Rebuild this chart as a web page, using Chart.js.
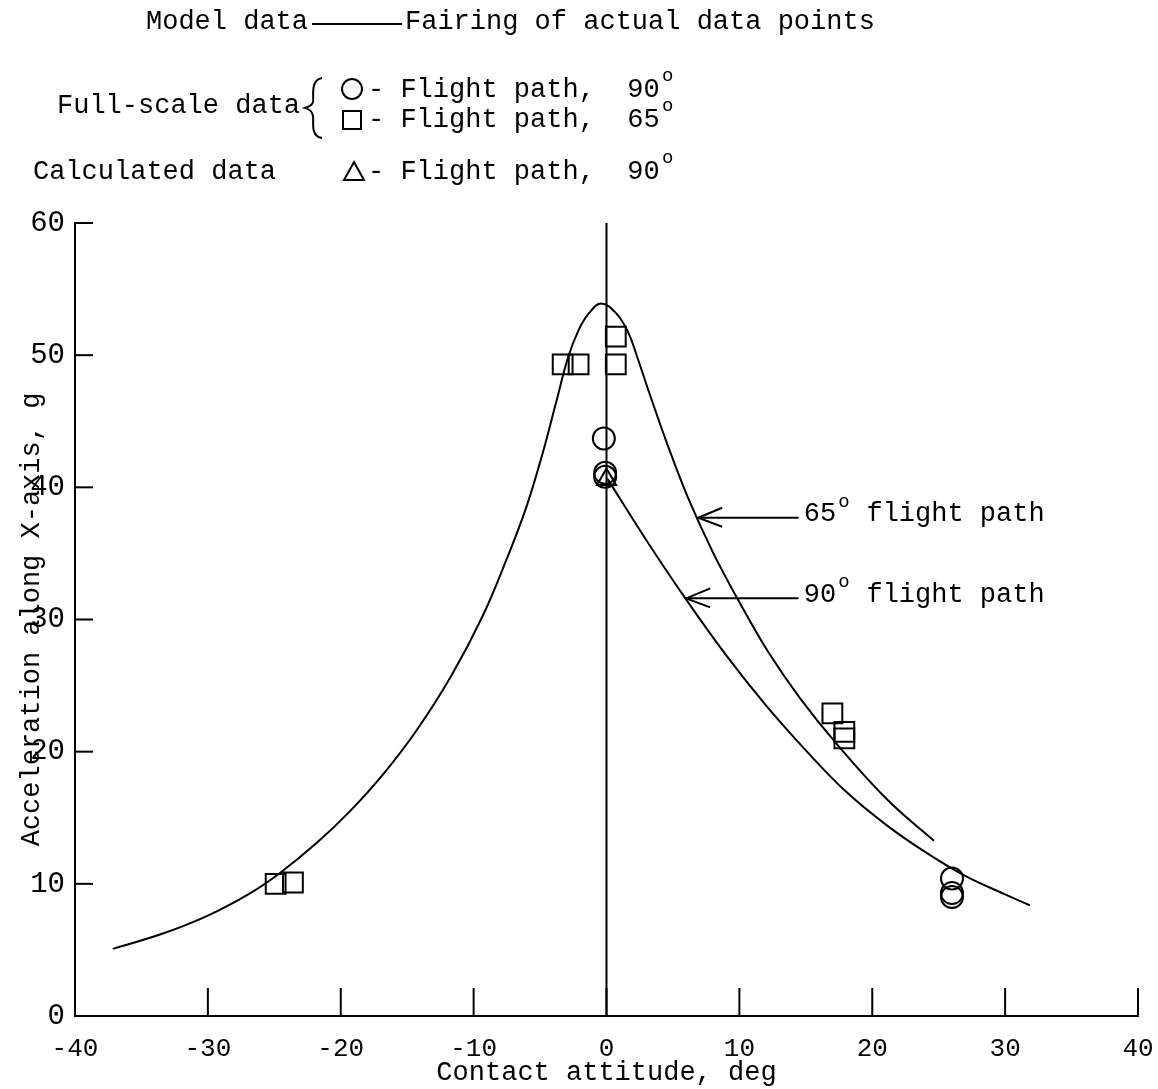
<!DOCTYPE html>
<html>
<head>
<meta charset="utf-8">
<script src="https://cdn.jsdelivr.net/npm/chart.js@4.4.1/dist/chart.umd.min.js"></script>
<style>
html,body{margin:0;padding:0;background:#fff;}
#wrap{width:1158px;height:1089px;position:relative;}
</style>
</head>
<body>
<div id="wrap"><canvas id="c" width="1158" height="1089"></canvas></div>
<script>
// ---- data ----
const xTicks = [-40, -30, -20, -10, 0, 10, 20, 30, 40];
const yTicks = [0, 10, 20, 30, 40, 50, 60];

// Model data fairing, 65 deg flight path
const fair65X = [-37.1, -33.5, -30, -26.8, -24.6, -21.8, -19.3, -16.8, -14.3, -11.7, -9.3, -7.5, -6.0, -4.8, -3.8, -2.9, -2.1, -1.3, -0.4, 0.7, 1.6, 2.3, 3.1, 4.6, 6.1, 8.0, 9.9, 12.2, 14.6, 17.4, 21.2, 24.6];
const fair65Y = [5.1, 6.2, 7.6, 9.3, 10.8, 13.1, 15.5, 18.3, 21.6, 25.7, 30.3, 34.6, 38.6, 42.6, 46.4, 49.8, 51.9, 53.2, 53.9, 53.2, 51.8, 49.9, 47.5, 43.2, 39.3, 35.1, 31.5, 27.5, 24.0, 20.5, 16.3, 13.3];

// Model data fairing, 90 deg flight path
const fair90X = [0.1, 3, 6, 9, 12, 15, 18, 21, 24, 27, 30, 31.8];
const fair90Y = [40.6, 36.0, 31.5, 27.3, 23.5, 20.1, 17.0, 14.5, 12.4, 10.6, 9.2, 8.4];

// Full-scale data, flight path 90 deg (circles)
const circX = [-0.2, -0.1, -0.1, 26.0, 26.0, 26.0];
const circY = [43.7, 41.1, 40.8, 10.4, 9.3, 9.0];

// Full-scale data, flight path 65 deg (squares)
const sqX = [-3.3, -2.1, 0.7, 0.7, -24.9, -23.6, 17.0, 17.9, 17.9];
const sqY = [49.3, 49.3, 51.4, 49.3, 10.0, 10.1, 22.9, 21.5, 21.0];

// Calculated data, flight path 90 deg (triangle)
const triX = [0.0];
const triY = [40.6];

// vertical reference line at 0 deg
const zeroX = [0, 0];
const zeroY = [0, 60];

// curve annotations
const annLabel = ['65', '90'];
const annTipX = [6.9, 6.0];
const annTipY = [37.7, 31.6];
const annTailX = [14.4, 14.4];

const FONT = '"Liberation Mono", "DejaVu Sans Mono", monospace';

function pts(xs, ys) { return xs.map((x, i) => ({x: x, y: ys[i]})); }

const lineStyle = {showLine: true, pointRadius: 0, borderColor: '#000', backgroundColor: '#000', borderWidth: 2, fill: false, tension: 0};
const curveStyle = Object.assign({}, lineStyle, {tension: 0.4});

const datasets = [
  Object.assign({label: 'zero', data: pts(zeroX, zeroY)}, lineStyle),
  Object.assign({label: 'fair65', data: pts(fair65X, fair65Y)}, curveStyle),
  Object.assign({label: 'fair90', data: pts(fair90X, fair90Y)}, curveStyle),
  {label: 'circles', data: pts(circX, circY), pointStyle: 'circle', pointRadius: 11, borderColor: '#000', borderWidth: 2, backgroundColor: 'rgba(0,0,0,0)', showLine: false},
  {label: 'squares', data: pts(sqX, sqY), pointStyle: 'rect', pointRadius: 14, borderColor: '#000', borderWidth: 2, backgroundColor: 'rgba(0,0,0,0)', showLine: false},
  {label: 'tri', data: pts(triX, triY), pointStyle: 'triangle', pointRadius: 11, borderColor: '#000', borderWidth: 2, backgroundColor: 'rgba(0,0,0,0)', showLine: false}
];
annLabel.forEach((l, i) => {
  datasets.push(Object.assign({label: 'arrow' + l, data: pts([annTipX[i], annTailX[i]], [annTipY[i], annTipY[i]])}, lineStyle));
});

const decor = {
  id: 'decor',
  afterDraw(chart) {
    const ctx = chart.ctx;
    const xs = chart.scales.x, ys = chart.scales.y;
    const y0 = ys.getPixelForValue(0), x0 = xs.getPixelForValue(-40);
    ctx.save();
    ctx.strokeStyle = '#000';
    ctx.fillStyle = '#000';
    ctx.lineWidth = 2;
    // inside tick marks
    xTicks.forEach(v => {
      if (v === -40) return;
      const px = xs.getPixelForValue(v);
      ctx.beginPath(); ctx.moveTo(px, y0); ctx.lineTo(px, y0 - 28); ctx.stroke();
    });
    yTicks.forEach(v => {
      if (v === 0) return;
      const py = ys.getPixelForValue(v);
      ctx.beginPath(); ctx.moveTo(x0, py); ctx.lineTo(x0 + 18, py); ctx.stroke();
    });
    // arrow heads and labels
    annLabel.forEach((l, i) => {
      const tx = xs.getPixelForValue(annTipX[i]), ty = ys.getPixelForValue(annTipY[i]);
      ctx.beginPath();
      ctx.moveTo(tx + 24, ty - 10); ctx.lineTo(tx, ty); ctx.lineTo(tx + 24, ty + 9);
      ctx.stroke();
      const lx = xs.getPixelForValue(annTailX[i]) + 6;
      ctx.font = '27px ' + FONT;
      ctx.textBaseline = 'middle';
      ctx.textAlign = 'left';
      ctx.fillText(l, lx, ty - 4);
      const w = ctx.measureText(l).width;
      ctx.font = '19px ' + FONT;
      ctx.fillText('o', lx + w + 2, ty - 16);
      ctx.font = '27px ' + FONT;
      ctx.fillText(' flight path', lx + w + 14, ty - 4);
    });
    // header legend
    ctx.font = '27px ' + FONT;
    ctx.textBaseline = 'middle';
    ctx.textAlign = 'left';
    ctx.fillText('Model data', 146, 22);
    ctx.beginPath(); ctx.moveTo(312, 24); ctx.lineTo(402, 24); ctx.stroke();
    ctx.fillText('Fairing of actual data points', 405, 22);
    ctx.fillText('Full-scale data', 57, 106);
    // brace
    ctx.beginPath();
    ctx.moveTo(322, 78);
    ctx.bezierCurveTo(310, 80, 314, 96, 313, 102);
    ctx.bezierCurveTo(312, 106, 308, 107, 305, 108);
    ctx.bezierCurveTo(308, 109, 312, 110, 313, 116);
    ctx.bezierCurveTo(314, 122, 310, 136, 322, 138);
    ctx.stroke();
    // circle symbol
    ctx.beginPath(); ctx.arc(352, 89, 10, 0, Math.PI * 2); ctx.stroke();
    ctx.fillText('- Flight path,  90', 368, 90);
    // square symbol
    ctx.strokeRect(343, 111, 18, 18);
    ctx.fillText('- Flight path,  65', 368, 120);
    // triangle symbol
    ctx.beginPath(); ctx.moveTo(354, 162); ctx.lineTo(364, 180); ctx.lineTo(344, 180); ctx.closePath(); ctx.stroke();
    ctx.fillText('- Flight path,  90', 368, 172);
    ctx.fillText('Calculated data', 33, 172);
    ctx.font = '19px ' + FONT;
    ctx.fillText('o', 662, 76);
    ctx.fillText('o', 662, 106);
    ctx.fillText('o', 662, 158);
    ctx.restore();
  }
};

new Chart(document.getElementById('c'), {
  type: 'scatter',
  data: {datasets: datasets},
  options: {
    responsive: false,
    animation: false,
    devicePixelRatio: 1,
    layout: {padding: {left: 0, right: 20, top: 223, bottom: 0}},
    plugins: {legend: {display: false}, tooltip: {enabled: false}},
    elements: {line: {borderCapStyle: 'round'}},
    scales: {
      x: {
        type: 'linear', min: -40, max: 40,
        afterBuildTicks: s => { s.ticks = xTicks.map(v => ({value: v})); },
        afterFit: s => { s.height = 73; s.paddingLeft = 0; s.paddingRight = 0; },
        ticks: {font: {family: FONT, size: 26}, color: '#000', padding: 18, maxRotation: 0, autoSkip: false},
        grid: {display: false, drawTicks: false},
        border: {display: true, color: '#000', width: 2},
        title: {display: true, text: 'Contact attitude, deg', color: '#000', font: {family: FONT, size: 27}, padding: {top: 0, bottom: 0}}
      },
      y: {
        type: 'linear', min: 0, max: 60,
        afterBuildTicks: s => { s.ticks = yTicks.map(v => ({value: v})); },
        afterFit: s => { s.width = 75; s.paddingTop = 0; s.paddingBottom = 0; },
        ticks: {font: {family: FONT, size: 29}, color: '#000', padding: 10, autoSkip: false},
        grid: {display: false, drawTicks: false},
        border: {display: true, color: '#000', width: 2},
        title: {display: true, text: 'Acceleration along X-axis, g', color: '#000', font: {family: FONT, size: 27}, padding: {top: 16, bottom: 0}}
      }
    }
  },
  plugins: [decor]
});
</script>
</body>
</html>
